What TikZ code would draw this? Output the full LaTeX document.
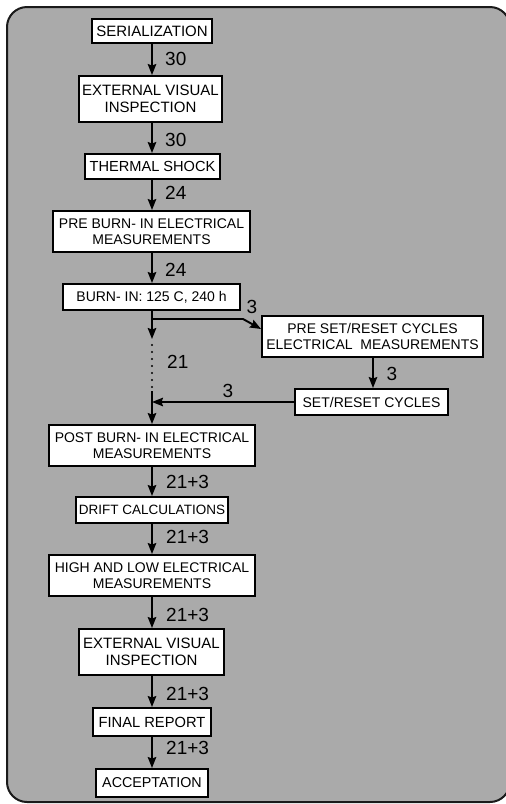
\documentclass[tikz,border=0pt]{standalone}
\usepackage{fontspec}
\setmainfont{Liberation Sans}
\usetikzlibrary{arrows.meta}
\definecolor{bggray}{HTML}{AAAAAA}
\definecolor{framec}{HTML}{1A1A1A}
\begin{document}
\begin{tikzpicture}[x=1pt,y=-1pt,
  stepbox/.style={draw=black,fill=white,line width=1.9pt,inner sep=0pt,align=center,font=\fontsize{14}{16}\selectfont},
  flow/.style={line width=1.9pt,-{Stealth[length=11pt,width=8.5pt,inset=1.5pt]}},
  plain/.style={line width=1.9pt},
  num/.style={anchor=west,inner sep=0pt,font=\fontsize{19}{21}\selectfont}]
\useasboundingbox (0,0) rectangle (506,804);
\draw[fill=bggray,draw=framec,line width=2pt,rounded corners=20pt] (7,7) rectangle (510,802);
\coordinate (sp) at (152,0);
\node[stepbox,minimum width=120pt,minimum height=24pt,font=\fontsize{15}{17}\selectfont] (ser) at (152,31) {SERIALIZATION};
\node[stepbox,minimum width=143pt,minimum height=46pt,font=\fontsize{15}{17}\selectfont] (evi1) at (150.5,99) {EXTERNAL VISUAL\\INSPECTION};
\node[stepbox,minimum width=135pt,minimum height=25pt,font=\fontsize{14.6}{17}\selectfont] (ts) at (152.5,166.5) {THERMAL SHOCK};
\node[stepbox,minimum width=197pt,minimum height=41pt] (pre) at (151.5,231.5) {PRE BURN- IN ELECTRICAL\\MEASUREMENTS};
\node[stepbox,minimum width=177pt,minimum height=26pt] (burn) at (151.5,297) {BURN- IN: 125 C, 240 h};
\node[stepbox,minimum width=221pt,minimum height=41pt] (prs) at (372.5,336.5) {PRE SET/RESET CYCLES\\ELECTRICAL\ \ MEASUREMENTS};
\node[stepbox,minimum width=153pt,minimum height=26pt] (src) at (371.5,402) {SET/RESET CYCLES};
\node[stepbox,minimum width=206pt,minimum height=41pt] (post) at (152,445.5) {POST BURN- IN ELECTRICAL\\MEASUREMENTS};
\node[stepbox,minimum width=152pt,minimum height=26pt,font=\fontsize{13.5}{16}\selectfont] (drift) at (152,510) {DRIFT CALCULATIONS};
\node[stepbox,minimum width=206pt,minimum height=41pt] (hl) at (152,575.5) {HIGH AND LOW ELECTRICAL\\MEASUREMENTS};
\node[stepbox,minimum width=145pt,minimum height=46pt,font=\fontsize{15}{17}\selectfont] (evi2) at (151.5,652) {EXTERNAL VISUAL\\INSPECTION};
\node[stepbox,minimum width=118pt,minimum height=28pt,font=\fontsize{14.7}{17}\selectfont] (fr) at (152,722) {FINAL REPORT};
\node[stepbox,minimum width=112pt,minimum height=28pt,font=\fontsize{14.3}{17}\selectfont] (acc) at (152,783) {ACCEPTATION};
% main arrows
\draw[flow] (ser.south -| sp) -- (evi1.north -| sp);
\draw[flow] (evi1.south -| sp) -- (ts.north -| sp);
\draw[flow] (ts.south -| sp) -- (pre.north -| sp);
\draw[flow] (pre.south -| sp) -- (burn.north -| sp);
\draw[flow] (post.south -| sp) -- (drift.north -| sp);
\draw[flow] (drift.south -| sp) -- (hl.north -| sp);
\draw[flow] (hl.south -| sp) -- (evi2.north -| sp);
\draw[flow] (evi2.south -| sp) -- (fr.north -| sp);
\draw[flow] (fr.south -| sp) -- (acc.north -| sp);
% branch
\coordinate (br) at (152,319);
\coordinate (bt) at (152,339);
\coordinate (ds) at (152,391);
\coordinate (jn) at (152,402);
\coordinate (bk) at (243,319);
\draw[flow] (burn.south -| sp) -- (bt);
\draw[flow] (br) -- (bk) -- (prs.west |- 0,329);
\draw[line width=2.4pt,line cap=round,dash pattern=on 0pt off 7pt] (152,345) -- (152,388);
\draw[flow] (ds) -- (post.north -| sp);
\draw[flow] (prs.south -| 373,0) -- (src.north -| 373,0);
\draw[flow] (src.west) -- (jn);
% labels
\node[num] (l1) at (165,59) {30};
\node[num] (l2) at (165,140) {30};
\node[num] (l3) at (165,193) {24};
\node[num] (l4) at (165,270) {24};
\node[num] (l5) at (167,362) {21};
\node[num,anchor=center] (l6) at (252,307) {3};
\node[num,anchor=center] (l7) at (392,374) {3};
\node[num,anchor=center] (l8) at (228,391) {3};
\node[num] (l9) at (166,482) {21+3};
\node[num] (l10) at (166,537) {21+3};
\node[num] (l11) at (166,615) {21+3};
\node[num] (l12) at (166,694) {21+3};
\node[num] (l13) at (166,748) {21+3};
\end{tikzpicture}
\end{document}
